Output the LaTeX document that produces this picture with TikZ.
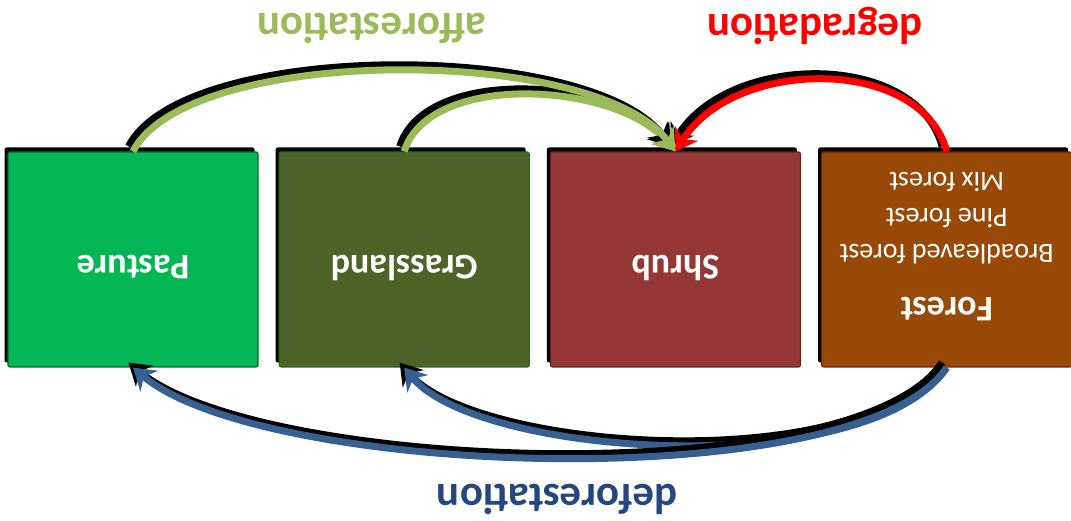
\documentclass[tikz,border=0pt]{standalone}
\usepackage{fontspec}
\setmainfont{Carlito}
\usetikzlibrary{arrows.meta,positioning,shadows}

\definecolor{pasturefill}{RGB}{5,183,84}
\definecolor{pastureedge}{RGB}{0,110,40}
\definecolor{grassfill}{RGB}{79,98,40}
\definecolor{grassedge}{RGB}{30,110,30}
\definecolor{shrubfill}{RGB}{149,55,53}
\definecolor{shrubedge}{RGB}{99,37,35}
\definecolor{forestfill}{RGB}{152,72,7}
\definecolor{forestedge}{RGB}{128,30,0}
\definecolor{afforgreen}{RGB}{155,187,89}
\definecolor{degradred}{RGB}{255,0,0}
\definecolor{deforblue}{RGB}{55,96,146}
\definecolor{deforlabel}{RGB}{38,70,130}

\begin{document}
\begin{tikzpicture}[x=1pt,y=1pt,node distance=20pt,
                     landbox/.style={
                                % The shape:
                                rectangle,minimum width=250pt,minimum height=215pt,rounded corners=2pt,
                                % The rest
                                line width=1.2pt,
                                drop shadow={shadow xshift=-3.5pt,shadow yshift=4.5pt,fill=black,opacity=1}},
                     boxtext/.style={rotate=180,anchor=base,text=white,
                                font=\fontsize{36}{40}\selectfont\bfseries},
                     subtext/.style={rotate=180,anchor=base,text=white,
                                font=\fontsize{28}{34}\selectfont},
                     flowlabel/.style={rotate=180,anchor=base,
                                font=\fontsize{43}{50}\selectfont\bfseries},
                     flow/.style={line width=7pt,-{Stealth[length=21pt,width=27pt]}}]
 \useasboundingbox (0,0) rectangle (1071,521);
 % the four land covers
 \node (pasture)   [landbox,fill=pasturefill,draw=pastureedge] at (133,261.5) {};
            \node (grassland) [landbox,fill=grassfill,draw=grassedge,right=of pasture]     {};
            \node (shrub)     [landbox,fill=shrubfill,draw=shrubedge,right=of grassland]   {};
            \node (forest)    [landbox,fill=forestfill,draw=forestedge,right=of shrub]     {};
 % transitions, each with its black shadow
 \foreach \from/\to/\ax/\ay/\bx/\by/\col in
            {forest.north/shrub.north/-25/95/60/95/degradred,
             grassland.north/shrub.north/25/80/-60/70/afforgreen,
             pasture.north/shrub.north/55/107/-80/107/afforgreen,
             forest.south/grassland.south/-78/-115/75/-90/deforblue,
             forest.south/pasture.south/-87/-130/131/-110/deforblue}
            {
             \begin{scope}[transform canvas={shift={(-4.5pt,5pt)}}]
               \draw [flow,draw=black] (\from) .. controls +(\ax,\ay) and +(\bx,\by) .. (\to);
             \end{scope}
             \draw [flow,draw=\col] (\from) .. controls +(\ax,\ay) and +(\bx,\by) .. (\to);
            }
 % texts
 \node (pasturetxt)   [boxtext] at ([yshift=3.5pt]pasture.center)   {Pasture};
            \node (grasslandtxt) [boxtext] at ([yshift=3.5pt]grassland.center) {Grassland};
            \node (shrubtxt)     [boxtext] at ([yshift=3.5pt]shrub.center)     {Shrub};
            \node (foresttxt)    [boxtext] at ([yshift=-38.5pt]forest.center)  {Forest};
            \foreach \kind [count=\i] in {Broadleaved forest,Pine forest,Mix forest}
              \node (forestsub\i) [subtext] at ([yshift=14.5pt+36pt*(\i-1)]forest.center) {\kind};
 \node (afforlbl)  [flowlabel,text=afforgreen] at (372,507.5) {afforestation};
            \node (degradlbl) [flowlabel,text=degradred]  at (815,506)   {degradation};
            \node (deforlbl)  [flowlabel,text=deforlabel] at (557,36)    {deforestation};
\end{tikzpicture}
\end{document}
